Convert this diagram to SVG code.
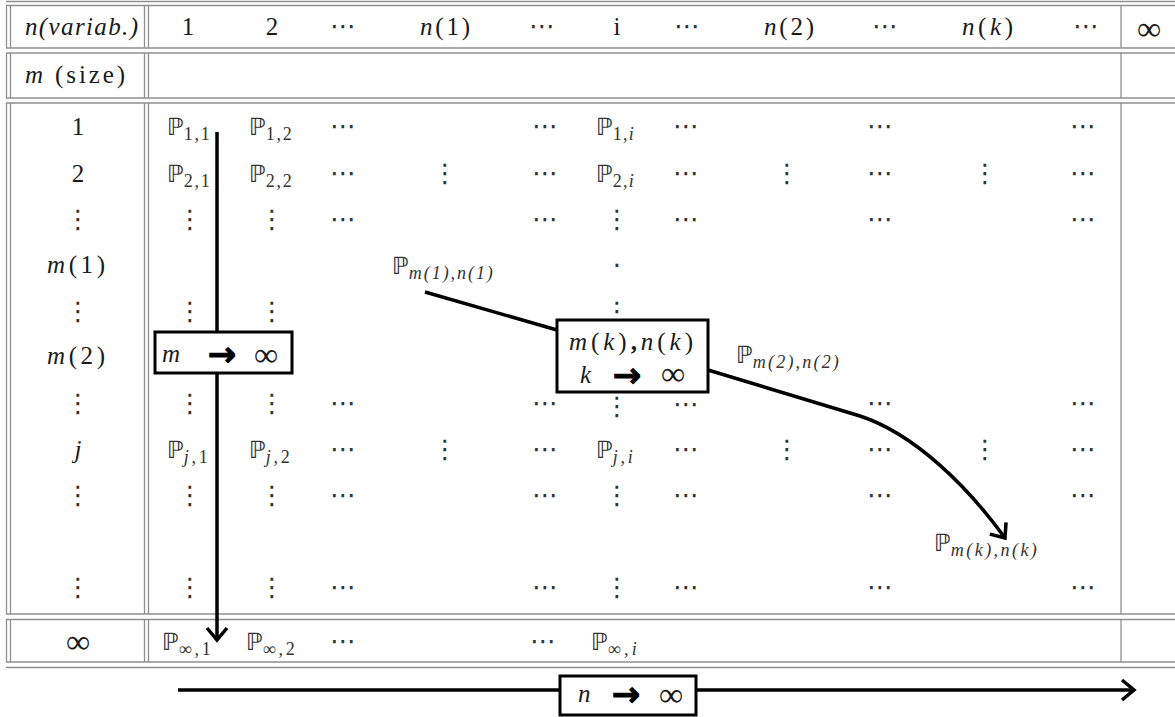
<svg xmlns="http://www.w3.org/2000/svg" width="1175" height="717" viewBox="0 0 1175 717">
<style>
.t{font-family:"Liberation Serif","DejaVu Serif",serif;font-size:25px;fill:#1a1a1a}
.it{font-style:italic}
.m{text-anchor:middle}
.P{font-family:"DejaVu Sans",sans-serif;font-size:24px;fill:#333}
.sub{font-family:"Liberation Serif","DejaVu Serif",serif;font-size:18px}
.cd{font-family:"DejaVu Sans",sans-serif;font-size:26px;fill:#333;text-anchor:middle}
.vd{font-family:"DejaVu Sans",sans-serif;font-size:26px;fill:#333;text-anchor:middle}
.inf{font-family:"Liberation Serif","DejaVu Serif",serif;font-size:34px;fill:#1a1a1a;text-anchor:middle}
.arw{font-family:"DejaVu Sans",sans-serif;font-weight:bold;font-size:34px;fill:#000;stroke:#000;stroke-width:1;text-anchor:middle}
.grid line{stroke:#8f8f8f;stroke-width:1.3}
.box{fill:#fff;stroke:#000;stroke-width:3}
.con{fill:none;stroke:#000;stroke-width:3.5}
</style>
<defs>
<marker id="chev" markerUnits="userSpaceOnUse" markerWidth="30" markerHeight="30" viewBox="-15 -15 30 30" refX="0" refY="0" orient="auto" overflow="visible">
<path d="M-12,-10 L0,0 L-12,10" fill="none" stroke="#000" stroke-width="3.5"/>
</marker>
</defs>
<rect width="1175" height="717" fill="#fff"/>
<g id="grid" class="grid">
<line x1="6" y1="1.5" x2="1175" y2="1.5"/><line x1="6" y1="5.5" x2="1175" y2="5.5"/>
<line x1="6" y1="48" x2="1175" y2="48"/><line x1="6" y1="53" x2="1175" y2="53"/>
<line x1="6" y1="98" x2="1175" y2="98"/><line x1="6" y1="103" x2="1175" y2="103"/>
<line x1="6" y1="614" x2="1175" y2="614"/><line x1="6" y1="619.5" x2="1175" y2="619.5"/>
<line x1="6" y1="662" x2="1175" y2="662"/><line x1="6" y1="667.5" x2="1175" y2="667.5"/>
<line x1="6.5" y1="5.5" x2="6.5" y2="48"/><line x1="10.5" y1="5.5" x2="10.5" y2="48"/><line x1="144.5" y1="5.5" x2="144.5" y2="48"/><line x1="148.5" y1="5.5" x2="148.5" y2="48"/><line x1="1121" y1="5.5" x2="1121" y2="48"/>
<line x1="6.5" y1="53" x2="6.5" y2="98"/><line x1="10.5" y1="53" x2="10.5" y2="98"/><line x1="144.5" y1="53" x2="144.5" y2="98"/><line x1="148.5" y1="53" x2="148.5" y2="98"/><line x1="1121" y1="53" x2="1121" y2="98"/>
<line x1="6.5" y1="103" x2="6.5" y2="614"/><line x1="10.5" y1="103" x2="10.5" y2="614"/><line x1="144.5" y1="103" x2="144.5" y2="614"/><line x1="148.5" y1="103" x2="148.5" y2="614"/><line x1="1121" y1="103" x2="1121" y2="614"/>
<line x1="6.5" y1="619.5" x2="6.5" y2="662"/><line x1="10.5" y1="619.5" x2="10.5" y2="662"/><line x1="144.5" y1="619.5" x2="144.5" y2="662"/><line x1="148.5" y1="619.5" x2="148.5" y2="662"/><line x1="1121" y1="619.5" x2="1121" y2="662"/>
</g>
<g id="header">
<text class="t it" x="25" y="35" textLength="113" lengthAdjust="spacing">n(variab.)</text>
<text class="t m" x="188" y="35">1</text>
<text class="t m" x="272" y="35">2</text>
<text class="cd" x="343" y="35">⋯</text>
<text class="t" x="420" y="35" textLength="50" lengthAdjust="spacing"><tspan class="it">n</tspan>(1)</text>
<text class="cd" x="542" y="35">⋯</text>
<text class="t m" x="617" y="35">i</text>
<text class="cd" x="687" y="35">⋯</text>
<text class="t" x="764" y="35" textLength="50" lengthAdjust="spacing"><tspan class="it">n</tspan>(2)</text>
<text class="cd" x="885" y="35">⋯</text>
<text class="t" x="962" y="35" textLength="51" lengthAdjust="spacing"><tspan class="it">n</tspan>(<tspan class="it">k</tspan>)</text>
<text class="cd" x="1086" y="35">⋯</text>
<text class="inf" x="1149" y="40">∞</text>
</g>
<g id="size-row">
<text class="t" x="25" y="83" textLength="100" lengthAdjust="spacing"><tspan class="it">m</tspan> (size)</text>
</g>
<g id="row-labels">
<text class="t m" x="78" y="135">1</text>
<text class="t m" x="78" y="182">2</text>
<text class="vd" x="78" y="228">⋮</text>
<text class="t" x="47" y="273" textLength="58" lengthAdjust="spacing"><tspan class="it">m</tspan>(1)</text>
<text class="vd" x="78" y="320">⋮</text>
<text class="t" x="47" y="364" textLength="58" lengthAdjust="spacing"><tspan class="it">m</tspan>(2)</text>
<text class="vd" x="78" y="412">⋮</text>
<text class="t it m" x="78" y="458">j</text>
<text class="vd" x="78" y="504">⋮</text>
<text class="vd" x="78" y="596">⋮</text>
<text class="inf" x="78" y="653">∞</text>
</g>
<g id="row-1">
<text class="P" x="167" y="135">ℙ<tspan class="sub" dy="5" textLength="26" lengthAdjust="spacing">1,1</tspan></text>
<text class="P" x="249" y="135">ℙ<tspan class="sub" dy="5" textLength="26" lengthAdjust="spacing">1,2</tspan></text>
<text class="cd" x="343" y="135">⋯</text>
<text class="cd" x="545" y="135">⋯</text>
<text class="P" x="596" y="135">ℙ<tspan class="sub" dy="5" textLength="21" lengthAdjust="spacing">1,<tspan class="it">i</tspan></tspan></text>
<text class="cd" x="686" y="135">⋯</text>
<text class="cd" x="880" y="135">⋯</text>
<text class="cd" x="1083" y="135">⋯</text>
</g>
<g id="row-2">
<text class="P" x="167" y="182">ℙ<tspan class="sub" dy="5" textLength="26" lengthAdjust="spacing">2,1</tspan></text>
<text class="P" x="249" y="182">ℙ<tspan class="sub" dy="5" textLength="26" lengthAdjust="spacing">2,2</tspan></text>
<text class="cd" x="343" y="182">⋯</text>
<text class="vd" x="445" y="182">⋮</text>
<text class="cd" x="545" y="182">⋯</text>
<text class="P" x="596" y="182">ℙ<tspan class="sub" dy="5" textLength="21" lengthAdjust="spacing">2,<tspan class="it">i</tspan></tspan></text>
<text class="cd" x="686" y="182">⋯</text>
<text class="vd" x="787" y="182">⋮</text>
<text class="cd" x="880" y="182">⋯</text>
<text class="vd" x="985" y="182">⋮</text>
<text class="cd" x="1083" y="182">⋯</text>
</g>
<g id="row-3">
<text class="vd" x="190" y="228">⋮</text>
<text class="vd" x="272" y="228">⋮</text>
<text class="cd" x="343" y="228">⋯</text>
<text class="cd" x="545" y="228">⋯</text>
<text class="vd" x="617" y="228">⋮</text>
<text class="cd" x="686" y="228">⋯</text>
<text class="cd" x="880" y="228">⋯</text>
<text class="cd" x="1083" y="228">⋯</text>
</g>
<g id="row-m1">
<text class="P" x="392" y="274">ℙ<tspan class="sub it" dy="5" textLength="84" lengthAdjust="spacing">m(1),n(1)</tspan></text>
<text class="cd" x="617" y="275">·</text>
</g>
<g id="row-5">
<text class="vd" x="190" y="320">⋮</text>
<text class="vd" x="272" y="320">⋮</text>
<text class="vd" x="617" y="320">⋮</text>
</g>
<g id="row-m2">
<text class="P" x="736" y="363">ℙ<tspan class="sub it" dy="5" textLength="86" lengthAdjust="spacing">m(2),n(2)</tspan></text>
</g>
<g id="row-7">
<text class="vd" x="190" y="412">⋮</text>
<text class="vd" x="272" y="412">⋮</text>
<text class="cd" x="343" y="412">⋯</text>
<text class="cd" x="545" y="412">⋯</text>
<text class="vd" x="617" y="415">⋮</text>
<text class="cd" x="686" y="413">⋯</text>
<text class="cd" x="880" y="412">⋯</text>
<text class="cd" x="1083" y="412">⋯</text>
</g>
<g id="row-j">
<text class="P" x="167" y="458">ℙ<tspan class="sub" dy="5" textLength="24" lengthAdjust="spacing"><tspan class="it">j</tspan>,1</tspan></text>
<text class="P" x="249" y="458">ℙ<tspan class="sub" dy="5" textLength="24" lengthAdjust="spacing"><tspan class="it">j</tspan>,2</tspan></text>
<text class="cd" x="343" y="458">⋯</text>
<text class="vd" x="445" y="458">⋮</text>
<text class="cd" x="545" y="458">⋯</text>
<text class="P" x="596" y="458">ℙ<tspan class="sub it" dy="5" textLength="20" lengthAdjust="spacing">j,i</tspan></text>
<text class="cd" x="686" y="458">⋯</text>
<text class="vd" x="787" y="458">⋮</text>
<text class="cd" x="880" y="458">⋯</text>
<text class="vd" x="985" y="458">⋮</text>
<text class="cd" x="1083" y="458">⋯</text>
</g>
<g id="row-9">
<text class="vd" x="190" y="504">⋮</text>
<text class="vd" x="272" y="504">⋮</text>
<text class="cd" x="343" y="504">⋯</text>
<text class="cd" x="545" y="504">⋯</text>
<text class="vd" x="617" y="504">⋮</text>
<text class="cd" x="686" y="504">⋯</text>
<text class="cd" x="880" y="504">⋯</text>
<text class="cd" x="1083" y="504">⋯</text>
</g>
<g id="row-mk">
<text class="P" x="934" y="551">ℙ<tspan class="sub it" dy="5" textLength="86" lengthAdjust="spacing">m(k),n(k)</tspan></text>
</g>
<g id="row-11">
<text class="vd" x="190" y="596">⋮</text>
<text class="vd" x="272" y="596">⋮</text>
<text class="cd" x="343" y="596">⋯</text>
<text class="cd" x="545" y="596">⋯</text>
<text class="vd" x="617" y="596">⋮</text>
<text class="cd" x="686" y="596">⋯</text>
<text class="cd" x="880" y="596">⋯</text>
<text class="cd" x="1083" y="596">⋯</text>
</g>
<g id="row-inf">
<text class="P" x="162" y="650">ℙ<tspan class="sub" dy="5" textLength="32" lengthAdjust="spacing">∞,1</tspan></text>
<text class="P" x="246" y="650">ℙ<tspan class="sub" dy="5" textLength="32" lengthAdjust="spacing">∞,2</tspan></text>
<text class="cd" x="343" y="650">⋯</text>
<text class="cd" x="543" y="650">⋯</text>
<text class="P" x="591" y="650">ℙ<tspan class="sub" dy="5" textLength="29" lengthAdjust="spacing">∞,<tspan class="it">i</tspan></tspan></text>
</g>
<g id="connectors">
<line class="con" x1="217" y1="132" x2="217" y2="640" marker-end="url(#chev)"/>
<path class="con" d="M425,292 L557,330"/>
<path class="con" d="M708,370 L860,416 C915,434 968,487 1005,538" marker-end="url(#chev)"/>
<line class="con" x1="178" y1="690" x2="1134" y2="690" marker-end="url(#chev)"/>
</g>
<g id="node-m">
<rect class="box" x="155" y="332" width="137" height="41"/>
<text class="t it" x="162" y="362">m</text>
<text class="arw" x="222" y="366">→</text>
<text class="inf" x="266" y="366">∞</text>
</g>
<g id="node-k">
<rect class="box" x="557" y="320" width="151" height="72"/>
<text class="t" x="569" y="350" textLength="124" lengthAdjust="spacing"><tspan class="it">m</tspan>(<tspan class="it">k</tspan>)<tspan font-weight="bold">,</tspan><tspan class="it">n</tspan>(<tspan class="it">k</tspan>)</text>
<text class="t it" x="580" y="383">k</text>
<text class="arw" x="627" y="387">→</text>
<text class="inf" x="673" y="385">∞</text>
</g>
<g id="node-n">
<rect class="box" x="560" y="676" width="136" height="39"/>
<text class="t it" x="578" y="702">n</text>
<text class="arw" x="626" y="706">→</text>
<text class="inf" x="671" y="706">∞</text>
</g>
</svg>
